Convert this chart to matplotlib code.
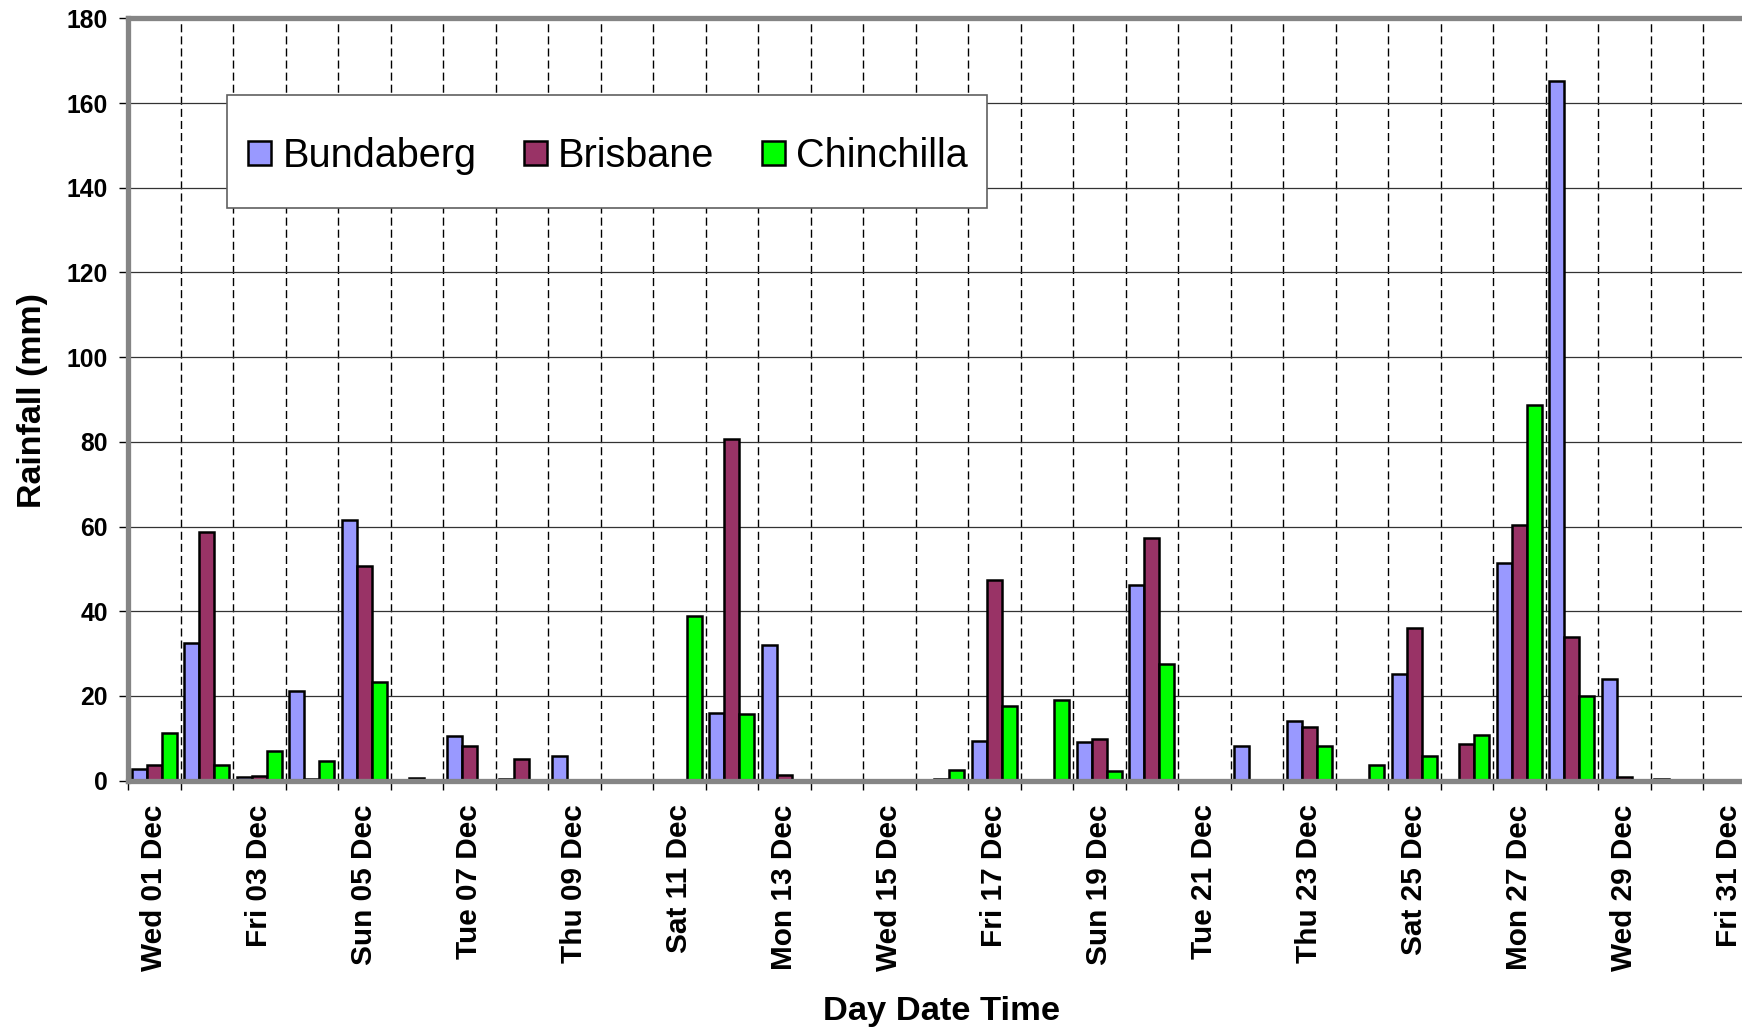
import matplotlib
matplotlib.use("Agg")
import matplotlib.pyplot as plt
from matplotlib.patches import Rectangle
from matplotlib.ticker import FixedLocator, MultipleLocator
import numpy as np

plt.rcParams['font.family'] = ['Liberation Sans', 'DejaVu Sans']

# ---- data ----
days = list(range(1, 32))
weekdays = ["Wed", "Thu", "Fri", "Sat", "Sun", "Mon", "Tue"]
day_labels = [f"{weekdays[(d - 1) % 7]} {d:02d} Dec" for d in days]

series_names = ["Bundaberg", "Brisbane", "Chinchilla"]
bundaberg = [2.8, 32.6, 0.8, 21.2, 61.6, 0, 10.6, 0.3, 5.8, 0, 0, 16.0, 32.0, 0, 0, 0,
             9.3, 0, 9.2, 46.3, 0, 8.1, 14.2, 0, 25.2, 0, 51.5, 165.3, 24.1, 0.3, 0]
brisbane = [3.7, 58.6, 1.1, 0.3, 50.7, 0.7, 8.3, 5.2, 0, 0, 0, 80.6, 1.3, 0, 0.2, 0.3,
            47.4, 0, 9.8, 57.3, 0, 0, 12.7, 0.2, 36.1, 8.7, 60.3, 33.9, 0.8, 0, 0]
chinchilla = [11.3, 3.7, 6.9, 4.7, 23.2, 0, 0, 0, 0, 0, 39.0, 15.7, 0, 0, 0, 2.5,
              17.6, 19.1, 2.4, 27.5, 0, 0, 8.3, 3.7, 5.8, 10.7, 88.8, 20.0, 0, 0, 0]
colors = ["#9999FF", "#993366", "#00FF00"]
yticks = list(range(0, 181, 20))

W, H = 1742, 1029
fig = plt.figure(figsize=(W / 100, H / 100), dpi=100)
ax_left, ax_bottom, ax_top = 128, 780.7, 18.3
day_px = 52.5
ax = fig.add_axes([ax_left / W, 1 - ax_bottom / H, len(days) * day_px / W, (ax_bottom - ax_top) / H])

x = np.arange(len(days)) + 0.5
bw = 15 / day_px
for k, (vals, c, name) in enumerate(zip([bundaberg, brisbane, chinchilla], colors, series_names)):
    ax.bar(x + (k - 1) * bw, vals, width=bw, color=c, edgecolor="black", linewidth=1.8,
           label=name, zorder=3)

ax.set_xlim(0, len(days))
ax.set_ylim(0, 180)
ax.set_axisbelow(True)

# y axis
ax.yaxis.set_major_locator(FixedLocator(yticks))
ax.set_yticklabels([str(v) for v in yticks], fontsize=17.8, fontweight="bold")
ax.tick_params(axis="y", direction="out", length=6.5, width=1, color="black", pad=8)
ax.grid(axis="y", which="major", color="#333333", linewidth=0.9, linestyle="-")

# x axis: labels at centres of odd days, ticks/grid at day boundaries
ax.xaxis.set_major_locator(FixedLocator(x[::2]))
ax.set_xticklabels(day_labels[::2], rotation=90, fontsize=21.4, fontweight="bold", va="top", ha="center")
ax.tick_params(axis="x", which="major", length=0, pad=17)
ax.xaxis.set_minor_locator(MultipleLocator(1))
ax.tick_params(axis="x", which="minor", direction="out", length=6.5, width=1, color="black")
ax.grid(axis="x", which="minor", color="black", linewidth=1.0, linestyle=(0, (5.8, 2.9)))

for s in ["left", "bottom", "top"]:
    ax.spines[s].set_color("#858585")
    ax.spines[s].set_linewidth(3.8)
    ax.spines[s].set_zorder(4)
ax.spines["right"].set_visible(False)
ax.axhline(0, color="black", linewidth=1.0, zorder=4)

# labels
fig.text(32.5 / W, 1 - 400 / H, "Rainfall (mm)", rotation=90, ha="center", va="center",
         fontsize=24.5, fontweight="bold")
fig.text(941.5 / W, 1 - 1020 / H, "Day Date Time", ha="center", va="baseline",
         fontsize=24.8, fontweight="bold")

# legend box
lx0, lx1, ly0, ly1 = 227, 987, 95, 208
rect = Rectangle((lx0 / W, 1 - ly1 / H), (lx1 - lx0) / W, (ly1 - ly0) / H, transform=fig.transFigure,
                 facecolor="white", edgecolor="#606060", linewidth=1.2, zorder=10)
fig.patches.append(rect)
leg = fig.legend(loc="center", bbox_to_anchor=((lx0 + lx1) / 2 / W + 1 / W, 1 - ((ly0 + ly1) / 2 + 4.5) / H),
                 ncol=3, frameon=False, fontsize=28.5, handlelength=0.58, handleheight=0.58,
                 handletextpad=0.28, columnspacing=1.2, borderpad=0, borderaxespad=0)
for p in leg.get_patches():
    p.set_linewidth(1.8)
leg.set_zorder(11)

fig.savefig("out.png", dpi=100)
